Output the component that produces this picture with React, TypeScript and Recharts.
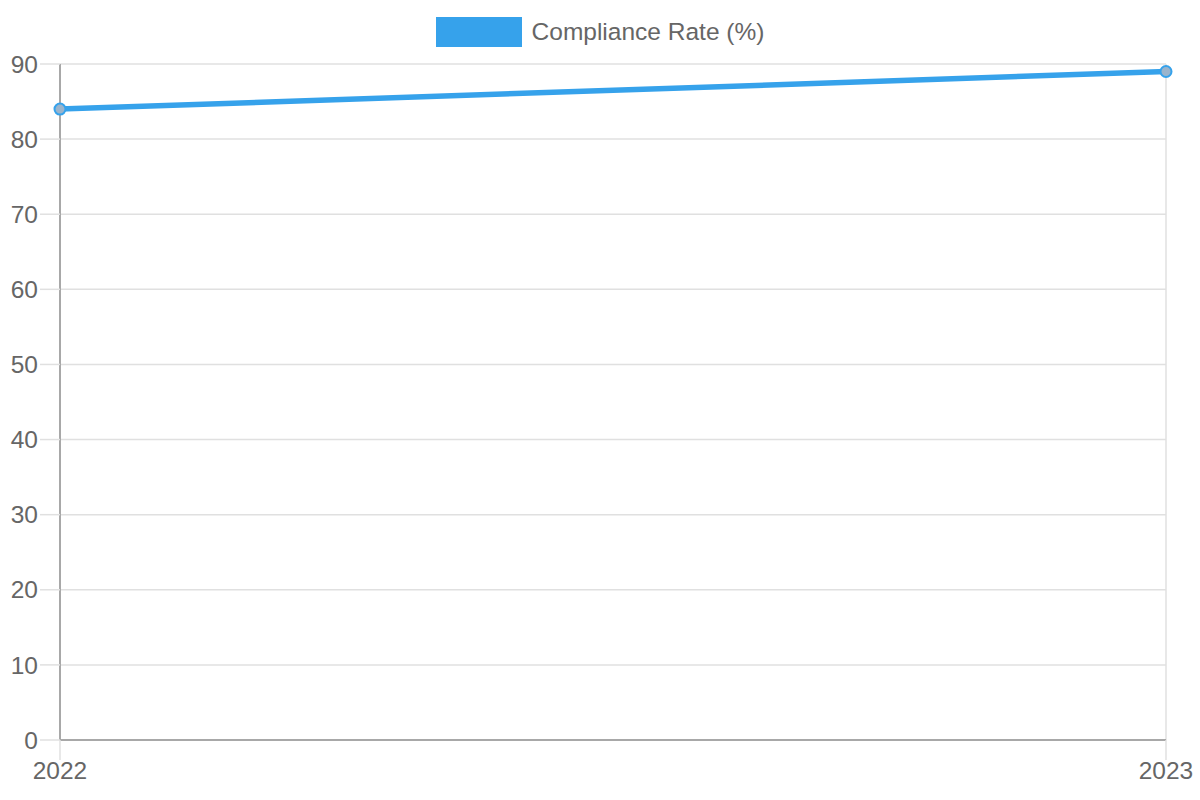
import { LineChart, Line, XAxis, YAxis, CartesianGrid, Legend } from "recharts";

const years = ["2022", "2023"];
const complianceRate = [84, 89];
const yTicks = [0, 10, 20, 30, 40, 50, 60, 70, 80, 90];

const data = years.map((year, i) => ({ year, rate: complianceRate[i] }));

const BLUE = "#36a2eb";
const TEXT = "#666666";
const FONT = "'Liberation Sans', Arial, Helvetica, sans-serif";

function LegendContent() {
  return (
    <div style={{ display: "flex", justifyContent: "center", alignItems: "center", fontFamily: FONT }}>
      <span style={{ display: "inline-block", width: 86, height: 30, background: BLUE, marginRight: 10 }} />
      <span style={{ fontSize: 24.5, color: TEXT }}>Compliance Rate (%)</span>
    </div>
  );
}

export default function App() {
  return (
    <div style={{ position: "fixed", top: 0, left: 0, width: 1200, height: 800, background: "#fff" }}>
      <LineChart width={1200} height={800} data={data} margin={{ top: 64, right: 34, left: 0, bottom: 0 }}>
        <CartesianGrid stroke="#e0e0e0" strokeWidth={1.5} />
        <XAxis
          dataKey="year"
          height={60}
          padding={{ left: 0, right: 0 }}
          tick={{ fontSize: 24.5, fill: TEXT, fontFamily: FONT }}
          tickSize={20}
          tickMargin={2}
          tickLine={{ stroke: "#e0e0e0", strokeWidth: 1.5 }}
          axisLine={{ stroke: "#a8a8a8", strokeWidth: 2 }}
          interval={0}
        />
        <YAxis
          width={60}
          domain={[0, 90]}
          ticks={yTicks}
          tick={{ fontSize: 24.5, fill: TEXT, fontFamily: FONT }}
          tickSize={20}
          tickMargin={2}
          tickLine={{ stroke: "#e0e0e0", strokeWidth: 1.5 }}
          axisLine={{ stroke: "#a8a8a8", strokeWidth: 2 }}
          interval={0}
        />
        <Legend
          layout="horizontal"
          align="center"
          verticalAlign="middle"
          content={<LegendContent />}
          wrapperStyle={{ top: 17, left: 0, width: 1200 }}
        />
        <Line
          type="linear"
          dataKey="rate"
          stroke={BLUE}
          strokeWidth={5.5}
          dot={{ r: 5.5, fill: "#9ab4cc", stroke: BLUE, strokeWidth: 2, fillOpacity: 1 }}
          isAnimationActive={false}
        />
      </LineChart>
    </div>
  );
}
